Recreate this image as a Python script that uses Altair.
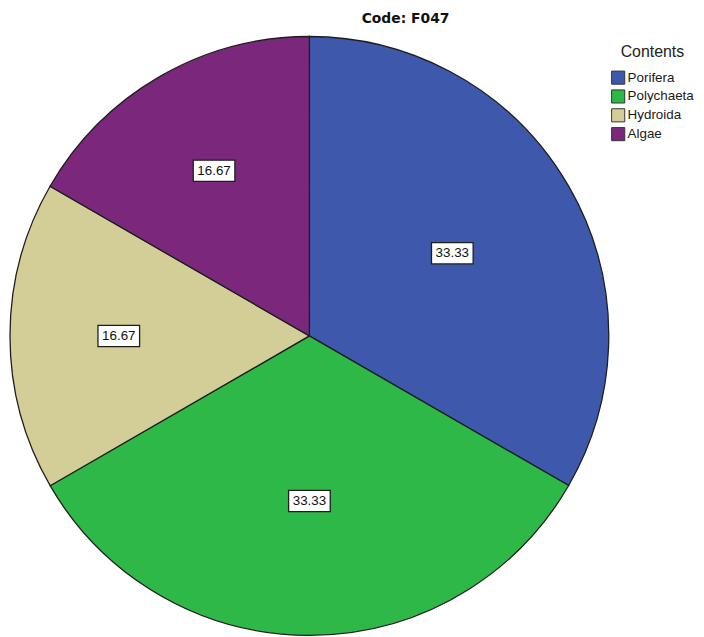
import altair as alt
import pandas as pd

# ---- data ----
categories = ["Porifera", "Polychaeta", "Hydroida", "Algae"]
percents = [33.33, 33.33, 16.67, 16.67]
colors = ["#3e58ac", "#2eb848", "#d3ce97", "#7b287c"]
title_text = "Code: F047"
legend_title = "Contents"

df = pd.DataFrame({
    "Contents": categories,
    "Percent": percents,
    "order": list(range(len(categories))),
})

W = 604      # plot width (pie diameter)
H = 603      # plot height
R = 302      # pie radius

base = alt.Chart(df)

color = alt.Color(
    "Contents:N",
    scale=alt.Scale(domain=categories, range=colors),
    legend=alt.Legend(
        title=legend_title,
        orient="none",
        legendX=606,
        legendY=8,
        titleFont="Liberation Sans",
        titleFontSize=16,
        titleFontWeight="normal",
        titleColor="#222222",
        titleAnchor="middle",
        titlePadding=10,
        labelFont="Liberation Sans",
        labelFontSize=13.5,
        labelColor="#1a1a1a",
        labelOffset=2,
        symbolType="square",
        symbolSize=175,
        symbolStrokeColor="#333333",
        symbolStrokeWidth=1,
        symbolOpacity=1,
        rowPadding=0,
        padding=0,
    ),
)

pie = base.mark_arc(outerRadius=R, stroke="#1e1e1e", strokeWidth=1.3).encode(
    theta=alt.Theta("Percent:Q", stack=True),
    color=color,
    order=alt.Order("order:Q"),
    x=alt.value(W / 2),
    y=alt.value(R),
)

# label positions: centroid of each sector, computed from the data
lab = (
    base.transform_joinaggregate(total="sum(Percent)")
    .transform_window(cum="sum(Percent)", sort=[alt.SortField("order")], frame=[None, 0])
    .transform_calculate(
        a0="2*PI*(datum.cum - datum.Percent)/datum.total",
        a1="2*PI*datum.cum/datum.total",
    )
    .transform_calculate(
        mid="(datum.a0 + datum.a1)/2",
        half="(datum.a1 - datum.a0)/2",
    )
    .transform_calculate(rc="2*sin(datum.half)/(3*datum.half)")
    .transform_calculate(
        lx="datum.rc*sin(datum.mid)",
        ly="datum.rc*cos(datum.mid)",
        label="format(datum.Percent, '.2f')",
    )
)

xs = alt.X("lx:Q", scale=alt.Scale(domain=[-1, 1], range=[0, W]), axis=None)
ys = alt.Y("ly:Q", scale=alt.Scale(domain=[-1, 1], range=[2 * R, 0]), axis=None)

boxes = lab.mark_point(
    shape="M-1,-0.51H1V0.51H-1Z",
    size=1764,
    filled=True,
    fill="white",
    stroke="#1e1e1e",
    strokeWidth=1.3,
    opacity=1,
).encode(x=xs, y=ys)

texts = lab.mark_text(
    font="Liberation Sans", fontSize=13.5, color="#111111", baseline="middle", align="center"
).encode(x=xs, y=ys, text="label:N")

chart = (
    alt.layer(pie, boxes, texts)
    .properties(
        width=W,
        height=H,
        title=alt.Title(
            title_text,
            font="DejaVu Sans",
            fontSize=14,
            fontWeight="bold",
            color="#111111",
            anchor="middle",
            frame="group",
            dx=97,
            offset=8,
        ),
        autosize="none",
        padding={"left": 2, "top": 26, "right": 88, "bottom": 0},
    )
    .configure_view(stroke=None)
)

chart.save("out.html", embed_options={"renderer": "svg", "actions": False})
